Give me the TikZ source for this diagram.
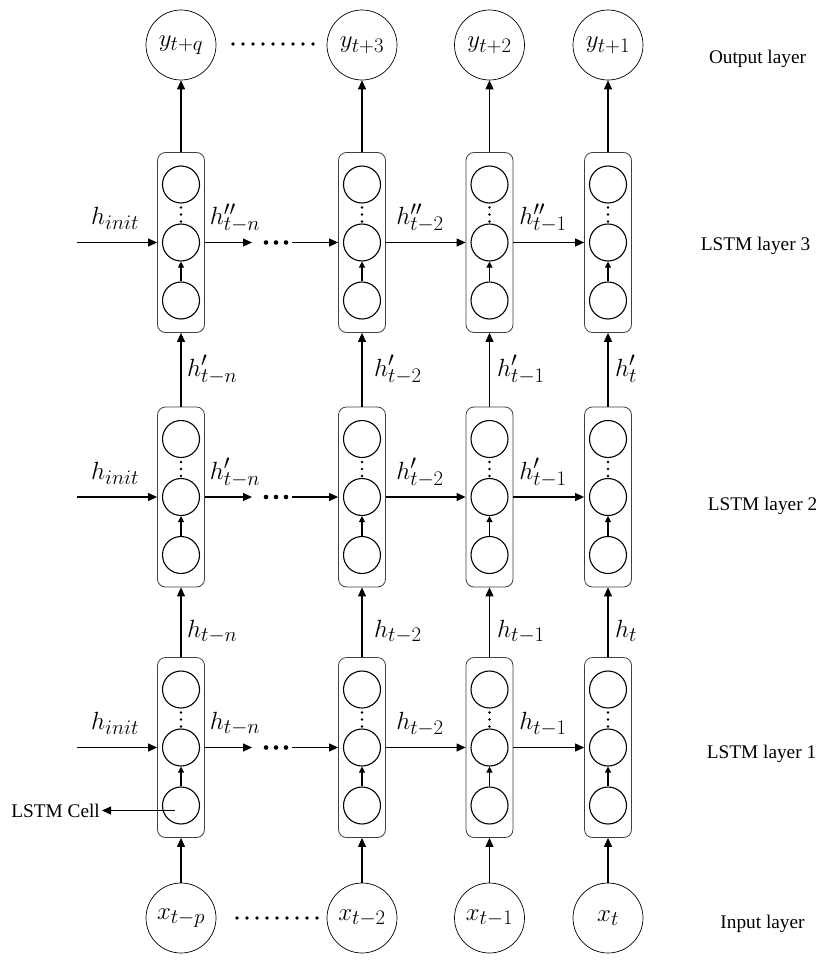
\documentclass[tikz,border=0pt]{standalone}
\usepackage[no-math]{fontspec}
\setmainfont{Liberation Serif}
\DeclareMathSizes{25}{25}{20}{15}
\usetikzlibrary{arrows.meta,calc}
\begin{document}
\begin{tikzpicture}[x=1pt,y=-1pt,
  mathf/.style={font=\fontsize{25}{29}\selectfont},
  bigc/.style={circle,draw,line width=0.7pt,minimum size=70pt,inner sep=0pt,mathf},
  smallc/.style={circle,draw,line width=1.1pt,minimum size=37pt,inner sep=0pt},
  cellbox/.style={draw=black!75,line width=0.8pt,rounded corners=8pt,minimum width=47pt,minimum height=180pt,inner sep=0pt},
  arr/.style={line width=1.1pt,-{Triangle[length=9pt,width=8pt]}},
  sarr/.style={line width=1.1pt,-{Triangle[length=6pt,width=6pt]}},
  lbl/.style={font=\rmfamily\fontsize{19.3}{23}\selectfont,inner sep=0pt,anchor=base},
  hl/.style={mathf,inner sep=0pt,anchor=base}
]
\fill[white] (0,0) rectangle (829,961);
\useasboundingbox (0,0) rectangle (829,961);

% LSTM cells
\foreach \c/\x in {1/181,2/362,3/489.5,4/608}{
  \foreach \l/\y in {1/747.5,2/497,3/242.5}{
    \node[cellbox] (b\c\l) at (\x,\y) {};
    \node[smallc] (t\c\l) at (\x,\y-58) {};
    \node[smallc] (m\c\l) at (\x,\y) {};
    \node[smallc] (s\c\l) at (\x,\y+58) {};
    \draw[sarr] (s\c\l) -- (m\c\l);
    \foreach \d in {35,28,21}{\fill (\x,\y-\d) circle (1.45pt);}
  }
}

% output and input nodes
\node[bigc] (y1) at (181,45) {$y_{t+q}$};
\node[bigc] (y2) at (362,45) {$y_{t+3}$};
\node[bigc] (y3) at (489.5,45) {$y_{t+2}$};
\node[bigc] (y4) at (608,45) {$y_{t+1}$};
\node[bigc] (x1) at (181,918) {$x_{t-p}$};
\node[bigc] (x2) at (362,918) {$x_{t-2}$};
\node[bigc] (x3) at (489.5,918) {$x_{t-1}$};
\node[bigc] (x4) at (608,918) {$x_{t}$};
\foreach \i in {0,...,8}{
  \fill (233+10*\i,44) circle (1.8pt);
  \fill (237+10*\i,918) circle (1.8pt);
}

% vertical connections
\foreach \c in {1,2,3,4}{
  \draw[arr] (x\c) -- (b\c1);
  \draw[arr] (b\c1) -- (b\c2);
  \draw[arr] (b\c2) -- (b\c3);
  \draw[arr] (b\c3) -- (y\c);
}

% horizontal connections
\foreach \l/\y in {1/747.5,2/497,3/242.5}{
  \coordinate (hi\l) at (77,\y);
  \draw[arr] (hi\l) -- (b1\l);
  \coordinate (he\l) at (252,\y);
  \draw[arr] (b1\l) -- (he\l);
  \foreach \i in {0,1,2}{\fill (266+10*\i,\y) circle (2.3pt);}
  \coordinate (hs\l) at (292,\y);
  \draw[arr] (hs\l) -- (b2\l);
  \draw[arr] (b2\l) -- (b3\l);
  \draw[arr] (b3\l) -- (b4\l);
}

% horizontal labels
\node[hl] (li3) at (115,224.5) {$h_{init}$};
\node[hl] (la3) at (235,224.5) {$h''_{t-n}$};
\node[hl] (lb3) at (420,224.5) {$h''_{t-2}$};
\node[hl] (lc3) at (543,224.5) {$h''_{t-1}$};
\node[hl] (li2) at (115,479) {$h_{init}$};
\node[hl] (la2) at (235,479) {$h'_{t-n}$};
\node[hl] (lb2) at (420,479) {$h'_{t-2}$};
\node[hl] (lc2) at (543,479) {$h'_{t-1}$};
\node[hl] (li1) at (115,729.5) {$h_{init}$};
\node[hl] (la1) at (235,729.5) {$h_{t-n}$};
\node[hl] (lb1) at (420,729.5) {$h_{t-2}$};
\node[hl] (lc1) at (543,729.5) {$h_{t-1}$};

% vertical labels
\node[hl,anchor=base west] (va1) at (187,637) {$h_{t-n}$};
\node[hl,anchor=base west] (vb1) at (374,637) {$h_{t-2}$};
\node[hl,anchor=base west] (vc1) at (497,637) {$h_{t-1}$};
\node[hl,anchor=base west] (vd1) at (615,637) {$h_{t}$};
\node[hl,anchor=base west] (va2) at (187,376) {$h'_{t-n}$};
\node[hl,anchor=base west] (vb2) at (374,376) {$h'_{t-2}$};
\node[hl,anchor=base west] (vc2) at (497,376) {$h'_{t-1}$};
\node[hl,anchor=base west] (vd2) at (615,376) {$h'_{t}$};

% LSTM cell pointer
\coordinate (lc) at ($(s11.center)+(-6,5)$);
\node[font=\rmfamily\fontsize{19.3}{23}\selectfont,inner sep=2pt,anchor=east] (lcell) at ($(lc)+(-73,0)$) {LSTM Cell};
\draw[arr] (lc) -- (lcell.east);

% layer labels
\node[lbl] (lout) at (757.5,63) {Output layer};
\node[lbl] (l3) at (755.5,250) {LSTM layer 3};
\node[lbl] (l2) at (762.5,510) {LSTM layer 2};
\node[lbl] (l1) at (761.5,758) {LSTM layer 1};
\node[lbl] (lin) at (762.5,928) {Input layer};
\end{tikzpicture}
\end{document}
